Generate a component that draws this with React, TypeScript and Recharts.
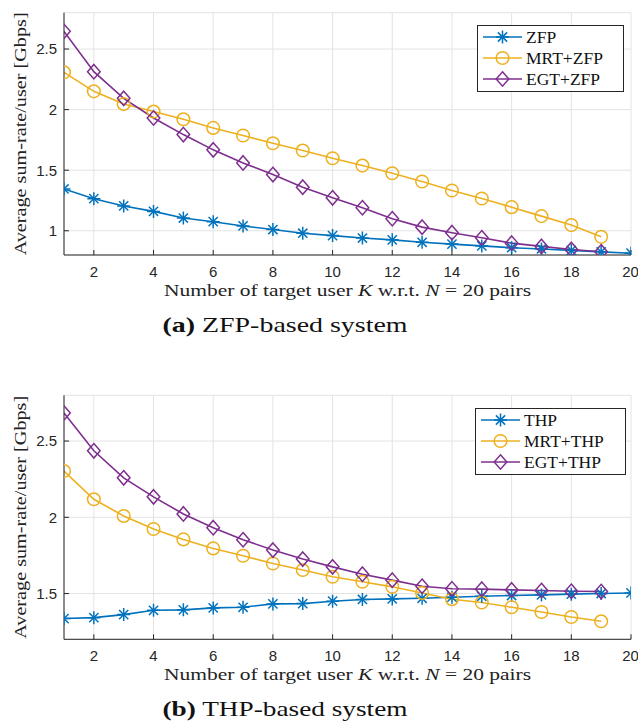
import React from 'react';
import { LineChart, Line, XAxis, YAxis, CartesianGrid, Legend } from 'recharts';

const kValues = [1, 2, 3, 4, 5, 6, 7, 8, 9, 10, 11, 12, 13, 14, 15, 16, 17, 18, 19, 20];

const zfp = [1.345, 1.265, 1.205, 1.16, 1.105, 1.075, 1.04, 1.01, 0.98, 0.96, 0.94, 0.925, 0.905, 0.89, 0.875, 0.86, 0.85, 0.838, 0.826, 0.815];
const mrtZfp = [2.308, 2.151, 2.047, 1.984, 1.92, 1.849, 1.786, 1.722, 1.662, 1.599, 1.538, 1.475, 1.407, 1.332, 1.266, 1.195, 1.121, 1.047, 0.95];
const egtZfp = [2.646, 2.313, 2.093, 1.931, 1.794, 1.668, 1.56, 1.464, 1.36, 1.272, 1.19, 1.099, 1.03, 0.984, 0.942, 0.898, 0.871, 0.846, 0.827];

const thp = [1.336, 1.342, 1.362, 1.39, 1.393, 1.406, 1.41, 1.432, 1.434, 1.45, 1.461, 1.465, 1.469, 1.476, 1.482, 1.487, 1.491, 1.496, 1.5, 1.504];
const mrtThp = [2.303, 2.118, 2.009, 1.923, 1.855, 1.796, 1.748, 1.697, 1.654, 1.61, 1.577, 1.544, 1.504, 1.463, 1.441, 1.41, 1.379, 1.346, 1.318];
const egtThp = [2.684, 2.436, 2.259, 2.134, 2.022, 1.932, 1.853, 1.785, 1.726, 1.675, 1.627, 1.588, 1.548, 1.531, 1.529, 1.524, 1.52, 1.515, 1.513];

const seriesNamesA = ['ZFP', 'MRT+ZFP', 'EGT+ZFP'];
const seriesNamesB = ['THP', 'MRT+THP', 'EGT+THP'];

const xTicks = [2, 4, 6, 8, 10, 12, 14, 16, 18, 20];
const xDomain = [1, 20];
const yTicksA = [1, 1.5, 2, 2.5];
const yDomainA = [0.8, 2.8];
const yTicksB = [1.5, 2, 2.5];
const yDomainB = [1.2, 2.8];

const yLabelText = 'Average sum-rate/user [Gbps]';

const BLUE = '#0072BD';
const ORANGE = '#EDB120';
const PURPLE = '#7E2F8E';
const AXIS = '#262626';
const GRID = '#e3e3e3';
const SERIF = '"Liberation Serif", "Times New Roman", serif';
const SANS = '"Liberation Sans", Arial, sans-serif';

const buildRows = (a: number[], b: number[], c: number[]) =>
  kValues.map((k, i) => ({
    k,
    s1: a[i] !== undefined ? a[i] : null,
    s2: b[i] !== undefined ? b[i] : null,
    s3: c[i] !== undefined ? c[i] : null,
  }));

const rowsA = buildRows(zfp, mrtZfp, egtZfp);
const rowsB = buildRows(thp, mrtThp, egtThp);

type MarkerKind = 'star' | 'circle' | 'diamond';

const Marker = ({ kind, cx, cy, color }: { kind: MarkerKind; cx: number; cy: number; color: string }) => {
  if (kind === 'star') {
    const r = 6.5;
    const d = r * 0.707;
    return (
      <g stroke={color} strokeWidth={1.5} fill="none">
        <line x1={cx - r} y1={cy} x2={cx + r} y2={cy} />
        <line x1={cx} y1={cy - r} x2={cx} y2={cy + r} />
        <line x1={cx - d} y1={cy - d} x2={cx + d} y2={cy + d} />
        <line x1={cx - d} y1={cy + d} x2={cx + d} y2={cy - d} />
      </g>
    );
  }
  if (kind === 'circle') {
    return <circle cx={cx} cy={cy} r={6.3} stroke={color} strokeWidth={1.5} fill="none" />;
  }
  const w = 6.3;
  const h = 7.2;
  return (
    <path
      d={`M${cx},${cy - h}L${cx + w},${cy}L${cx},${cy + h}L${cx - w},${cy}Z`}
      stroke={color}
      strokeWidth={1.5}
      fill="none"
    />
  );
};

const makeDot = (kind: MarkerKind, color: string) => (props: any) => {
  const { cx, cy, index, value } = props;
  if (value === null || value === undefined || cy === null || cy === undefined || isNaN(cy)) {
    return <g key={`e-${kind}-${index}`} />;
  }
  return (
    <g key={`d-${kind}-${index}`}>
      <Marker kind={kind} cx={cx} cy={cy} color={color} />
    </g>
  );
};

const kinds: MarkerKind[] = ['star', 'circle', 'diamond'];
const colors = [BLUE, ORANGE, PURPLE];

const LegendBox = ({ names, width }: { names: string[]; width: number }) => (
  <div
    style={{
      width,
      boxSizing: 'border-box',
      border: `1px solid ${AXIS}`,
      background: '#fff',
      padding: '1px 0 2px 0',
    }}
  >
    {names.map((n, i) => (
      <div key={n} style={{ display: 'flex', alignItems: 'center', height: 20.7 }}>
        <svg width={48} height={20} style={{ display: 'block' }}>
          <line x1={5} y1={10} x2={44} y2={10} stroke={colors[i]} strokeWidth={1.5} />
          <Marker kind={kinds[i]} cx={24.5} cy={10} color={colors[i]} />
        </svg>
        <span style={{ fontFamily: SERIF, fontSize: 17.5, color: '#111', lineHeight: '20px' }}>{n}</span>
      </div>
    ))}
  </div>
);

type PanelProps = {
  rows: any[];
  names: string[];
  yTicks: number[];
  yDomain: number[];
  top: number;
  height: number;
  marginTop: number;
  plotHeight: number;
  legendLeft: number;
  legendTop: number;
  legendWidth: number;
  captionTag: string;
  captionRest: string;
};

const PLOT_LEFT = 64;
const PLOT_RIGHT = 631;
const WIDTH = 638;
const TICK_IN = -5;

const Panel = (p: PanelProps) => {
  const plotTop = p.marginTop;
  const plotBottom = p.marginTop + p.plotHeight;
  const xAxisHeight = p.height - plotBottom;
  const midX = (PLOT_LEFT + PLOT_RIGHT) / 2;
  const midY = (plotTop + plotBottom) / 2;

  const xLabelContent = () => (
    <g>
      <text
        x={midX}
        y={plotBottom + 41}
        textAnchor="middle"
        fontFamily={SERIF}
        fontSize={16}
        fill="#222"
        textLength={367}
        lengthAdjust="spacingAndGlyphs"
      >
        Number of target user <tspan fontStyle="italic">K</tspan> w.r.t. <tspan fontStyle="italic">N</tspan> = 20 pairs
      </text>
      <text
        x={285}
        y={plotBottom + 77}
        textAnchor="middle"
        fontFamily={SERIF}
        fontSize={21}
        fill="#111"
        textLength={245}
        lengthAdjust="spacingAndGlyphs"
      >
        <tspan fontWeight="bold">{p.captionTag}</tspan> {p.captionRest}
      </text>
    </g>
  );

  const yLabelContent = () => (
    <text
      x={26}
      y={midY}
      transform={`rotate(-90 26 ${midY})`}
      textAnchor="middle"
      fontFamily={SERIF}
      fontSize={16}
      fill="#222"
      textLength={243}
      lengthAdjust="spacingAndGlyphs"
    >
      {yLabelText}
    </text>
  );

  const axisLine = { stroke: AXIS, strokeWidth: 1 };
  const tickLine = { stroke: AXIS, strokeWidth: 1 };

  return (
    <div style={{ position: 'absolute', left: 0, top: p.top, width: WIDTH, height: p.height }}>
      <LineChart
        width={WIDTH}
        height={p.height}
        data={p.rows}
        margin={{ top: p.marginTop, right: WIDTH - PLOT_RIGHT, bottom: 0, left: 0 }}
      >
        <CartesianGrid stroke={GRID} strokeWidth={1} />
        <XAxis
          dataKey="k"
          type="number"
          domain={xDomain}
          ticks={xTicks}
          allowDataOverflow
          height={xAxisHeight}
          tickLine={tickLine}
          tickSize={TICK_IN}
          tickMargin={16}
          axisLine={axisLine}
          tick={{ fill: AXIS, fontSize: 15, fontFamily: SANS }}
          label={{ content: xLabelContent }}
        />
        <XAxis
          xAxisId="top"
          orientation="top"
          dataKey="k"
          type="number"
          domain={xDomain}
          ticks={xTicks}
          allowDataOverflow
          height={0}
          tickLine={tickLine}
          tickSize={TICK_IN}
          tick={false}
          axisLine={axisLine}
        />
        <YAxis
          type="number"
          domain={p.yDomain}
          ticks={p.yTicks}
          allowDataOverflow
          width={PLOT_LEFT}
          tickLine={tickLine}
          tickSize={TICK_IN}
          tickMargin={12}
          axisLine={axisLine}
          tick={{ fill: AXIS, fontSize: 15, fontFamily: SANS }}
          label={{ content: yLabelContent }}
        />
        <YAxis
          yAxisId="right"
          orientation="right"
          type="number"
          domain={p.yDomain}
          ticks={p.yTicks}
          allowDataOverflow
          width={0}
          tickLine={tickLine}
          tickSize={TICK_IN}
          tick={false}
          axisLine={axisLine}
        />
        {['s1', 's2', 's3'].map((key, i) => (
          <Line
            key={key}
            dataKey={key}
            name={p.names[i]}
            type="linear"
            stroke={colors[i]}
            strokeWidth={1.6}
            dot={makeDot(kinds[i], colors[i])}
            activeDot={false}
            connectNulls={false}
            isAnimationActive={false}
          />
        ))}
        <Legend
          layout="vertical"
          align="center"
          verticalAlign="middle"
          wrapperStyle={{ left: p.legendLeft, top: p.legendTop, width: p.legendWidth }}
          content={() => <LegendBox names={p.names} width={p.legendWidth} />}
        />
      </LineChart>
    </div>
  );
};

export default function App() {
  return (
    <div style={{ position: 'absolute', left: 0, top: 0, width: 638, height: 724, background: '#fff' }}>
      <Panel
        rows={rowsA}
        names={seriesNamesA}
        yTicks={yTicksA}
        yDomain={yDomainA}
        top={0}
        height={340}
        marginTop={12.7}
        plotHeight={242.3}
        legendLeft={477}
        legendTop={25}
        legendWidth={147}
        captionTag="(a)"
        captionRest="ZFP-based system"
      />
      <Panel
        rows={rowsB}
        names={seriesNamesB}
        yTicks={yTicksB}
        yDomain={yDomainB}
        top={380}
        height={344}
        marginTop={15.3}
        plotHeight={244}
        legendLeft={475}
        legendTop={28}
        legendWidth={151}
        captionTag="(b)"
        captionRest="THP-based system"
      />
    </div>
  );
}
